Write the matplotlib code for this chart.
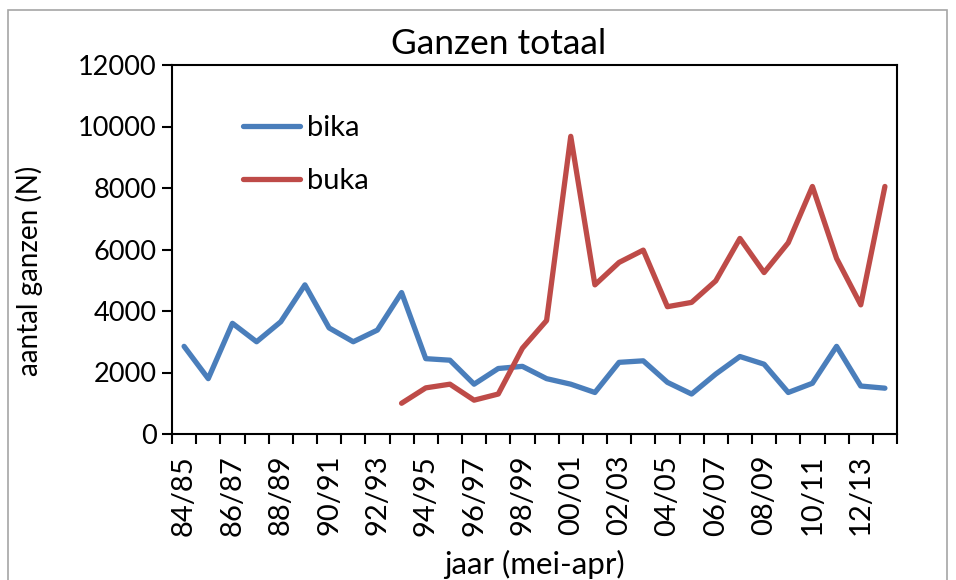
import matplotlib.pyplot as plt
from matplotlib.patches import Rectangle
import numpy as np

plt.rcParams['font.family'] = ['Lato', 'DejaVu Sans']

# seizoenen 84/85 .. 13/14
seasons = ['84/85', '85/86', '86/87', '87/88', '88/89', '89/90', '90/91', '91/92',
           '92/93', '93/94', '94/95', '95/96', '96/97', '97/98', '98/99', '99/00',
           '00/01', '01/02', '02/03', '03/04', '04/05', '05/06', '06/07', '07/08',
           '08/09', '09/10', '10/11', '11/12', '12/13', '13/14']

bika = [2850, 1800, 3600, 3000, 3650, 4850, 3450, 3000, 3380, 4600,
        2450, 2400, 1620, 2130, 2200, 1800, 1620, 1350, 2330, 2380,
        1680, 1300, 1950, 2520, 2270, 1350, 1650, 2850, 1560, 1490]

# buka begint pas in 93/94
buka = [None] * 9 + [1000, 1500, 1620, 1100, 1300, 2790, 3690, 9680, 4850, 5580,
                     5980, 4140, 4280, 4980, 6360, 5250, 6220, 8050, 5710, 4200, 8050]

y_ticks = [0, 2000, 4000, 6000, 8000, 10000, 12000]

fig = plt.figure(figsize=(9.56, 5.8), dpi=100)
ax = fig.add_axes([172 / 956, 1 - 434 / 580, 725 / 956, 369 / 580])

# grijze rand rond de grafiek
fig.patches.append(Rectangle((8 / 956, -0.05), 939 / 956, 1.05 - 10 / 580,
                             transform=fig.transFigure, fill=False,
                             edgecolor='#a6a6a6', linewidth=1.2))

x = np.arange(len(seasons))
buka_arr = np.array([np.nan if v is None else v for v in buka], dtype=float)

ax.plot(x, bika, color='#4a7ebb', lw=3.8, label='bika', solid_capstyle='round')
ax.plot(x, buka_arr, color='#be4b48', lw=3.8, label='buka', solid_capstyle='round')

ax.set_xlim(-0.5, len(seasons) - 0.5)
ax.set_ylim(0, 12000)
ax.set_yticks(y_ticks)
ax.set_yticklabels([str(t) for t in y_ticks], fontsize=19.5)

# streepjes tussen de categorieen, labels om de twee jaar
ax.set_xticks(np.arange(len(seasons) + 1) - 0.5)
ax.set_xticklabels([])
ax.set_xticks(x[::2], minor=True)
ax.set_xticklabels(seasons[::2], minor=True, rotation=90, fontsize=21)
ax.tick_params(axis='x', which='minor', length=0, pad=15)
ax.tick_params(axis='both', which='major', direction='out', length=7, width=1.5, color='black')
ax.tick_params(axis='y', pad=4)

for s in ax.spines.values():
    s.set_linewidth(1.5)
    s.set_color('black')

ax.set_title('Ganzen totaal', fontsize=25.5, pad=8, x=0.451)
ax.set_ylabel('aantal ganzen (N)', fontsize=20)
ax.yaxis.set_label_coords(-0.178, 0.442)
ax.set_xlabel('jaar (mei-apr)', fontsize=22.5)
ax.xaxis.set_label_coords(0.5, -0.315)

ax.legend(loc='upper left', bbox_to_anchor=(0.062, 0.935), frameon=False, fontsize=21,
          handlelength=1.95, labelspacing=0.92, handletextpad=0.25)

fig.savefig('out.png', dpi=100)
